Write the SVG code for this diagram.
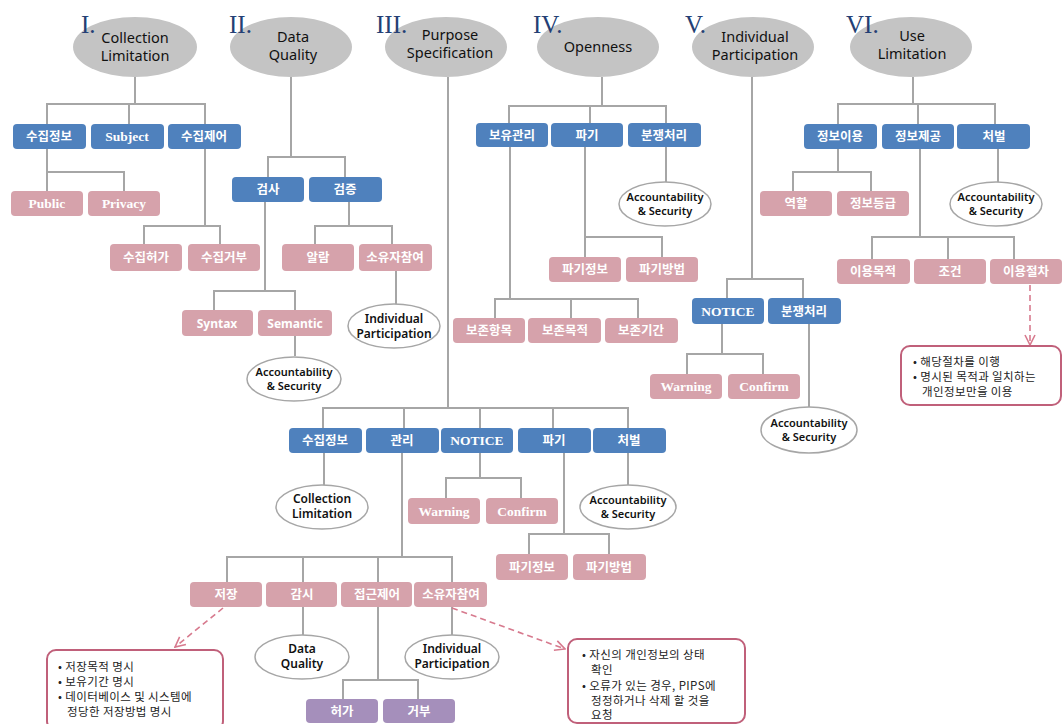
<svg xmlns="http://www.w3.org/2000/svg" width="1063" height="724" viewBox="0 0 1063 724">
  <defs>
    <style>
      .bg { fill: #ffffff; }
      .principle { fill: #c4c4c4; }
      .ptxt { font-family: "Noto Sans", "Noto Sans CJK KR", sans-serif; font-size: 14.5px; fill: #111; text-anchor: middle; }
      .num { font-family: "Liberation Serif", serif; font-size: 25px; fill: #243f75; }
      .blue { fill: #4f81bd; }
      .pink { fill: #d6a2ab; }
      .purple { fill: #a58fbb; }
      .btxt { font-family: "Noto Sans CJK KR", sans-serif; font-weight: bold; font-size: 12.5px; fill: #ffffff; text-anchor: middle; }
      .stxt { font-family: "Liberation Serif", "Noto Sans CJK KR", serif; font-weight: bold; font-size: 13.5px; fill: #ffffff; text-anchor: middle; }
      .ref { fill: #ffffff; stroke: #a6a6a6; stroke-width: 1.5; }
      .rtxt { font-family: "Noto Sans", sans-serif; font-weight: 600; font-size: 11px; fill: #111; text-anchor: middle; }
      .rtxt2 { font-family: "Noto Sans", sans-serif; font-weight: 600; font-size: 12px; fill: #111; text-anchor: middle; }
      .conn { fill: none; stroke: #a6a6a6; stroke-width: 2; }
      .dash { fill: none; stroke: #d77a8e; stroke-width: 1.6; stroke-dasharray: 6 4; }
      .note { fill: #ffffff; stroke: #c0607a; stroke-width: 2; }
      .ntxt { font-family: "Noto Sans CJK KR", sans-serif; font-size: 11.5px; letter-spacing: 0.4px; fill: #222; }
    </style>
    <marker id="open" viewBox="0 0 12 12" refX="11" refY="6" markerWidth="12" markerHeight="12" markerUnits="userSpaceOnUse" orient="auto">
      <path d="M1,1 L11,6 L1,11" fill="none" stroke="#d77a8e" stroke-width="1.6"/>
    </marker>
  </defs>

  <rect class="bg" x="0" y="0" width="1063" height="724"/>

  <!-- connectors -->
  <g id="connectors">
    <!-- I. Collection Limitation -->
    <path class="conn" d="M135,77 V104 M47,124 V104 H205 V124 M129,104 V124"/>
    <path class="conn" d="M47,149 V191 M47,172 H124 V191"/>
    <path class="conn" d="M205,149 V226 M144,244 V226 H220 V244"/>
    <!-- II. Data Quality -->
    <path class="conn" d="M291,77 V157 M268,177 V157 H345 V177"/>
    <path class="conn" d="M265,202 V291 M214,310 V291 H295 V310 M295,336 V356"/>
    <path class="conn" d="M349,202 V226 M315,244 V226 H392 V244 M396,271 V304"/>
    <!-- III. Purpose Specification -->
    <path class="conn" d="M448,77 V408 M323,428 V408 H628 V428 M404,408 V428 M480,408 V428 M553,408 V428"/>
    <path class="conn" d="M324,453 V485"/>
    <path class="conn" d="M480,453 V478 M446,498 V478 H521 V498"/>
    <path class="conn" d="M628,453 V485"/>
    <path class="conn" d="M564,453 V534 M529,554 V534 H609 V554"/>
    <path class="conn" d="M402,453 V557 M227,582 V557 H452 V582 M303,557 V582 M378,557 V582"/>
    <path class="conn" d="M303,607 V635 M452,607 V635"/>
    <path class="conn" d="M378,607 V680 M343,699 V680 H418 V699"/>
    <!-- IV. Openness -->
    <path class="conn" d="M602,77 V106 M509,123 V106 H666 V123 M590,106 V123"/>
    <path class="conn" d="M666,147 V182"/>
    <path class="conn" d="M585,147 V257 M585,237 H662 V257"/>
    <path class="conn" d="M510,147 V299 M495,318 V299 H638 V318 M571,299 V318"/>
    <!-- V. Individual Participation -->
    <path class="conn" d="M752,77 V279 M727,298 V279 H803 V298"/>
    <path class="conn" d="M722,324 V354 M687,374 V354 H763 V374"/>
    <path class="conn" d="M809,324 V407"/>
    <!-- VI. Use Limitation -->
    <path class="conn" d="M913,77 V104 M838,124 V104 H995 V124 M918,104 V124"/>
    <path class="conn" d="M838,149 V172 M793,191 V172 H871 V191"/>
    <path class="conn" d="M998,149 V182"/>
    <path class="conn" d="M920,149 V237 M872,259 V237 H1014 V259 M948,237 V259"/>
    <!-- dashed detail links -->
    <path class="dash" d="M223,608 L175,647" marker-end="url(#open)"/>
    <path class="dash" d="M452,608 L565,649" marker-end="url(#open)"/>
    <path class="dash" d="M1030,285 V345" marker-end="url(#open)"/>
  </g>

  <!-- principles -->
  <g id="p1">
    <ellipse class="principle" cx="135" cy="47" rx="62" ry="30"/>
    <text class="ptxt" x="135" y="43">Collection</text>
    <text class="ptxt" x="135" y="61">Limitation</text>
    <text class="num" x="81" y="33">I.</text>
  </g>
  <g id="p2">
    <ellipse class="principle" cx="291" cy="47" rx="61" ry="30"/>
    <text class="ptxt" x="293" y="42">Data</text>
    <text class="ptxt" x="293" y="60">Quality</text>
    <text class="num" x="229" y="33">II.</text>
  </g>
  <g id="p3">
    <ellipse class="principle" cx="446" cy="47" rx="61" ry="30"/>
    <text class="ptxt" x="450" y="40">Purpose</text>
    <text class="ptxt" x="450" y="58">Specification</text>
    <text class="num" x="376" y="33">III.</text>
  </g>
  <g id="p4">
    <ellipse class="principle" cx="598" cy="47" rx="61" ry="30"/>
    <text class="ptxt" x="598" y="52">Openness</text>
    <text class="num" x="533" y="33">IV.</text>
  </g>
  <g id="p5">
    <ellipse class="principle" cx="753" cy="47" rx="61" ry="30"/>
    <text class="ptxt" x="755" y="42">Individual</text>
    <text class="ptxt" x="755" y="60">Participation</text>
    <text class="num" x="685" y="33">V.</text>
  </g>
  <g id="p6">
    <ellipse class="principle" cx="911" cy="47" rx="61" ry="30"/>
    <text class="ptxt" x="912" y="41">Use</text>
    <text class="ptxt" x="912" y="59">Limitation</text>
    <text class="num" x="846" y="33">VI.</text>
  </g>

  <!-- I. nodes -->
  <g id="i-collect"><rect class="blue" x="13" y="124" width="73" height="25" rx="4"/><text class="btxt" x="49" y="141">수집정보</text></g>
  <g id="i-subject"><rect class="blue" x="91" y="124" width="73" height="25" rx="4"/><text class="stxt" x="127" y="141">Subject</text></g>
  <g id="i-control"><rect class="blue" x="168" y="124" width="73" height="25" rx="4"/><text class="btxt" x="204" y="141">수집제어</text></g>
  <g id="i-public"><rect class="pink" x="11" y="191" width="72" height="25" rx="4"/><text class="stxt" x="47" y="208">Public</text></g>
  <g id="i-privacy"><rect class="pink" x="88" y="191" width="72" height="25" rx="4"/><text class="stxt" x="124" y="208">Privacy</text></g>
  <g id="i-permit"><rect class="pink" x="110" y="244" width="72" height="27" rx="4"/><text class="btxt" x="146" y="262">수집허가</text></g>
  <g id="i-refuse"><rect class="pink" x="188" y="244" width="72" height="27" rx="4"/><text class="btxt" x="224" y="262">수집거부</text></g>

  <!-- II. nodes -->
  <g id="ii-check"><rect class="blue" x="232" y="177" width="72" height="25" rx="4"/><text class="btxt" x="268" y="194">검사</text></g>
  <g id="ii-verify"><rect class="blue" x="309" y="177" width="73" height="25" rx="4"/><text class="btxt" x="345" y="194">검증</text></g>
  <g id="ii-syntax"><rect class="pink" x="182" y="310" width="71" height="26" rx="4"/><text class="rtxt2" x="217" y="328" style="fill:#fff;font-weight:bold">Syntax</text></g>
  <g id="ii-semantic"><rect class="pink" x="258" y="310" width="74" height="26" rx="4"/><text class="rtxt2" x="295" y="328" style="fill:#fff;font-weight:bold">Semantic</text></g>
  <g id="ii-acc"><ellipse class="ref" cx="294" cy="379" rx="47" ry="22"/><text class="rtxt" x="294" y="376">Accountability</text><text class="rtxt" x="294" y="390">&amp; Security</text></g>
  <g id="ii-alarm"><rect class="pink" x="282" y="244" width="72" height="27" rx="4"/><text class="btxt" x="318" y="262">알람</text></g>
  <g id="ii-owner"><rect class="pink" x="359" y="244" width="73" height="27" rx="4"/><text class="btxt" x="395" y="262">소유자참여</text></g>
  <g id="ii-ip"><ellipse class="ref" cx="394" cy="326" rx="46" ry="22"/><text class="rtxt2" x="394" y="323">Individual</text><text class="rtxt2" x="394" y="338">Participation</text></g>

  <!-- III. nodes -->
  <g id="iii-collect"><rect class="blue" x="289" y="428" width="73" height="25" rx="4"/><text class="btxt" x="325" y="445">수집정보</text></g>
  <g id="iii-manage"><rect class="blue" x="366" y="428" width="73" height="25" rx="4"/><text class="btxt" x="402" y="445">관리</text></g>
  <g id="iii-notice"><rect class="blue" x="441" y="428" width="72" height="25" rx="4"/><text class="stxt" x="477" y="445">NOTICE</text></g>
  <g id="iii-destroy"><rect class="blue" x="518" y="428" width="73" height="25" rx="4"/><text class="btxt" x="554" y="445">파기</text></g>
  <g id="iii-punish"><rect class="blue" x="593" y="428" width="73" height="25" rx="4"/><text class="btxt" x="629" y="445">처벌</text></g>
  <g id="iii-cl"><ellipse class="ref" cx="322" cy="507" rx="46" ry="22"/><text class="rtxt2" x="322" y="503">Collection</text><text class="rtxt2" x="322" y="518">Limitation</text></g>
  <g id="iii-warning"><rect class="pink" x="408" y="498" width="72" height="26" rx="4"/><text class="stxt" x="444" y="516">Warning</text></g>
  <g id="iii-confirm"><rect class="pink" x="486" y="498" width="72" height="26" rx="4"/><text class="stxt" x="522" y="516">Confirm</text></g>
  <g id="iii-acc"><ellipse class="ref" cx="628" cy="507" rx="48" ry="22"/><text class="rtxt" x="628" y="504">Accountability</text><text class="rtxt" x="628" y="518">&amp; Security</text></g>
  <g id="iii-dinfo"><rect class="pink" x="496" y="554" width="72" height="26" rx="4"/><text class="btxt" x="532" y="572">파기정보</text></g>
  <g id="iii-dmethod"><rect class="pink" x="573" y="554" width="73" height="26" rx="4"/><text class="btxt" x="609" y="572">파기방법</text></g>
  <g id="iii-store"><rect class="pink" x="190" y="582" width="72" height="25" rx="4"/><text class="btxt" x="226" y="599">저장</text></g>
  <g id="iii-monitor"><rect class="pink" x="266" y="582" width="71" height="25" rx="4"/><text class="btxt" x="302" y="599">감시</text></g>
  <g id="iii-access"><rect class="pink" x="341" y="582" width="71" height="25" rx="4"/><text class="btxt" x="377" y="599">접근제어</text></g>
  <g id="iii-owner"><rect class="pink" x="414" y="582" width="73" height="25" rx="4"/><text class="btxt" x="451" y="599">소유자참여</text></g>
  <g id="iii-dq"><ellipse class="ref" cx="302" cy="657" rx="47" ry="22"/><text class="rtxt2" x="302" y="653">Data</text><text class="rtxt2" x="302" y="668">Quality</text></g>
  <g id="iii-ip"><ellipse class="ref" cx="452" cy="657" rx="47" ry="22"/><text class="rtxt2" x="452" y="653">Individual</text><text class="rtxt2" x="452" y="668">Participation</text></g>
  <g id="iii-permit"><rect class="purple" x="306" y="699" width="72" height="24" rx="4"/><text class="btxt" x="342" y="716">허가</text></g>
  <g id="iii-refuse"><rect class="purple" x="383" y="699" width="72" height="24" rx="4"/><text class="btxt" x="419" y="716">거부</text></g>

  <!-- IV. nodes -->
  <g id="iv-hold"><rect class="blue" x="476" y="123" width="72" height="24" rx="4"/><text class="btxt" x="512" y="140">보유관리</text></g>
  <g id="iv-destroy"><rect class="blue" x="551" y="123" width="72" height="24" rx="4"/><text class="btxt" x="587" y="140">파기</text></g>
  <g id="iv-dispute"><rect class="blue" x="628" y="123" width="73" height="24" rx="4"/><text class="btxt" x="664" y="140">분쟁처리</text></g>
  <g id="iv-acc"><ellipse class="ref" cx="665" cy="204" rx="46" ry="22"/><text class="rtxt" x="665" y="201">Accountability</text><text class="rtxt" x="665" y="215">&amp; Security</text></g>
  <g id="iv-dinfo"><rect class="pink" x="549" y="257" width="72" height="25" rx="4"/><text class="btxt" x="585" y="274">파기정보</text></g>
  <g id="iv-dmethod"><rect class="pink" x="626" y="257" width="72" height="25" rx="4"/><text class="btxt" x="662" y="274">파기방법</text></g>
  <g id="iv-item"><rect class="pink" x="453" y="318" width="72" height="25" rx="4"/><text class="btxt" x="489" y="335">보존항목</text></g>
  <g id="iv-purpose"><rect class="pink" x="528" y="318" width="73" height="25" rx="4"/><text class="btxt" x="565" y="335">보존목적</text></g>
  <g id="iv-period"><rect class="pink" x="605" y="318" width="73" height="25" rx="4"/><text class="btxt" x="641" y="335">보존기간</text></g>

  <!-- V. nodes -->
  <g id="v-notice"><rect class="blue" x="692" y="298" width="72" height="26" rx="4"/><text class="stxt" x="728" y="316">NOTICE</text></g>
  <g id="v-dispute"><rect class="blue" x="768" y="298" width="73" height="26" rx="4"/><text class="btxt" x="804" y="316">분쟁처리</text></g>
  <g id="v-warning"><rect class="pink" x="650" y="374" width="72" height="25" rx="4"/><text class="stxt" x="686" y="391">Warning</text></g>
  <g id="v-confirm"><rect class="pink" x="728" y="374" width="72" height="25" rx="4"/><text class="stxt" x="764" y="391">Confirm</text></g>
  <g id="v-acc"><ellipse class="ref" cx="809" cy="430" rx="48" ry="23"/><text class="rtxt" x="809" y="427">Accountability</text><text class="rtxt" x="809" y="441">&amp; Security</text></g>

  <!-- VI. nodes -->
  <g id="vi-use"><rect class="blue" x="804" y="124" width="73" height="25" rx="4"/><text class="btxt" x="840" y="141">정보이용</text></g>
  <g id="vi-provide"><rect class="blue" x="882" y="124" width="72" height="25" rx="4"/><text class="btxt" x="918" y="141">정보제공</text></g>
  <g id="vi-punish"><rect class="blue" x="957" y="124" width="73" height="25" rx="4"/><text class="btxt" x="994" y="141">처벌</text></g>
  <g id="vi-role"><rect class="pink" x="760" y="191" width="72" height="25" rx="4"/><text class="btxt" x="796" y="208">역할</text></g>
  <g id="vi-grade"><rect class="pink" x="837" y="191" width="72" height="25" rx="4"/><text class="btxt" x="873" y="208">정보등급</text></g>
  <g id="vi-acc"><ellipse class="ref" cx="996" cy="204" rx="46" ry="22"/><text class="rtxt" x="996" y="201">Accountability</text><text class="rtxt" x="996" y="215">&amp; Security</text></g>
  <g id="vi-purpose"><rect class="pink" x="837" y="259" width="73" height="25" rx="4"/><text class="btxt" x="873" y="276">이용목적</text></g>
  <g id="vi-cond"><rect class="pink" x="914" y="259" width="72" height="25" rx="4"/><text class="btxt" x="950" y="276">조건</text></g>
  <g id="vi-proc"><rect class="pink" x="990" y="259" width="72" height="25" rx="4"/><text class="btxt" x="1026" y="276">이용절차</text></g>

  <!-- detail notes -->
  <g id="note-store">
    <rect class="note" x="47" y="650" width="176" height="80" rx="9"/>
    <text class="ntxt" x="58" y="671">• 저장목적 명시</text>
    <text class="ntxt" x="58" y="686">• 보유기간 명시</text>
    <text class="ntxt" x="58" y="701">• 데이터베이스 및 시스템에</text>
    <text class="ntxt" x="67" y="716">정당한 저장방법 명시</text>
  </g>
  <g id="note-owner">
    <rect class="note" x="568" y="639" width="177" height="84" rx="9"/>
    <text class="ntxt" x="582" y="659">• 자신의 개인정보의 상태</text>
    <text class="ntxt" x="591" y="674">확인</text>
    <text class="ntxt" x="582" y="690">• 오류가 있는 경우, PIPS에</text>
    <text class="ntxt" x="591" y="705">정정하거나 삭제 할 것을</text>
    <text class="ntxt" x="591" y="719">요청</text>
  </g>
  <g id="note-proc">
    <rect class="note" x="901" y="346" width="160" height="59" rx="9"/>
    <text class="ntxt" x="913" y="366">• 해당절차를 이행</text>
    <text class="ntxt" x="913" y="381">• 명시된 목적과 일치하는</text>
    <text class="ntxt" x="922" y="396">개인정보만을 이용</text>
  </g>
</svg>
